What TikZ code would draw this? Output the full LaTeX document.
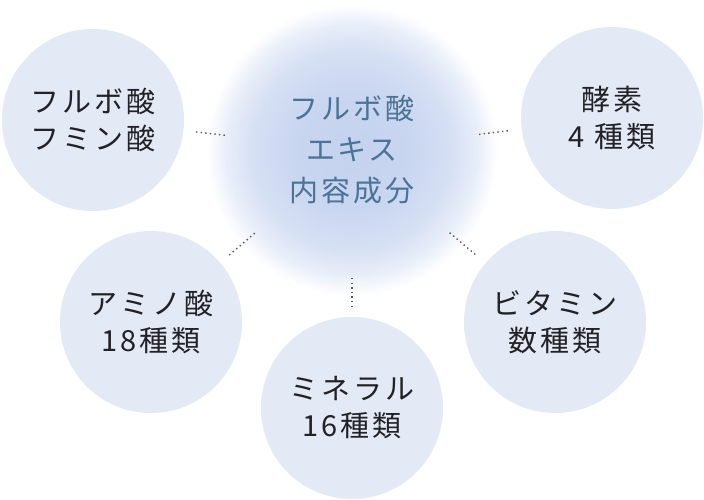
\documentclass[tikz,border=0pt]{standalone}
\usepackage{fontspec}
\newfontfamily\jp[LetterSpace=10]{Noto Sans CJK JP}
\usepackage{xcolor}
\definecolor{bubble}{HTML}{E3E9F5}
\definecolor{glowc}{HTML}{C3D2EE}
\definecolor{glowi}{HTML}{C9D6F0}
\definecolor{glowm}{HTML}{D6E0F4}
\definecolor{glowe}{HTML}{E8EEF9}
\definecolor{ink}{HTML}{222226}
\definecolor{steel}{HTML}{4A7397}
\definecolor{dotc}{HTML}{55585E}
\usepackage{tikz}
\usetikzlibrary{positioning}
\pgfdeclareradialshading{glowshade}{\pgfpoint{0bp}{0bp}}{%
  color(0bp)=(glowc); color(10bp)=(glowi); color(17bp)=(glowm); color(21.5bp)=(glowe);
  color(25bp)=(white); color(50bp)=(white)}
\tikzset{
  bubble/.style={circle,fill=bubble,minimum size=182pt,inner sep=0pt,align=center,
                 text=ink,font=\jp\fontsize{29}{37}\selectfont},
  glow/.style={circle,shading=glowshade,minimum size=292pt,inner sep=0pt,align=center,
               text=steel,font=\jp\fontsize{29}{41}\selectfont},
  dotline/.style={draw=dotc,line width=1.4pt,dash pattern=on 1.4pt off 3.2pt,
                  shorten <=128pt,shorten >=11pt},
}

\begin{document}
\begin{tikzpicture}[x=1pt,y=-1pt]
  \fill[white] (0,0) rectangle (704,500);
  \useasboundingbox (0,0) rectangle (704,500);

  \node[glow] (core) at (352,150) {フルボ酸\\エキス\\内容成分};

  \node[bubble] (fulvic) at (93,120) {フルボ酸\\フミン酸};
  \node[bubble] (enzyme) at (612,118) {酵素\\4 種類};
  \node[bubble] (amino) at (151,322) {アミノ酸\\18種類};
  \node[bubble] (mineral) at (352,408) {ミネラル\\16種類};
  \node[bubble] (vitamin) at (555,322) {ビタミン\\数種類};

  \draw[dotline] (core.center) -- (fulvic);
  \draw[dotline] (core.center) -- (enzyme);
  \draw[dotline] (core.center) -- (amino);
  \draw[dotline] (core.center) -- (mineral);
  \draw[dotline] (core.center) -- (vitamin);
\end{tikzpicture}
\end{document}
